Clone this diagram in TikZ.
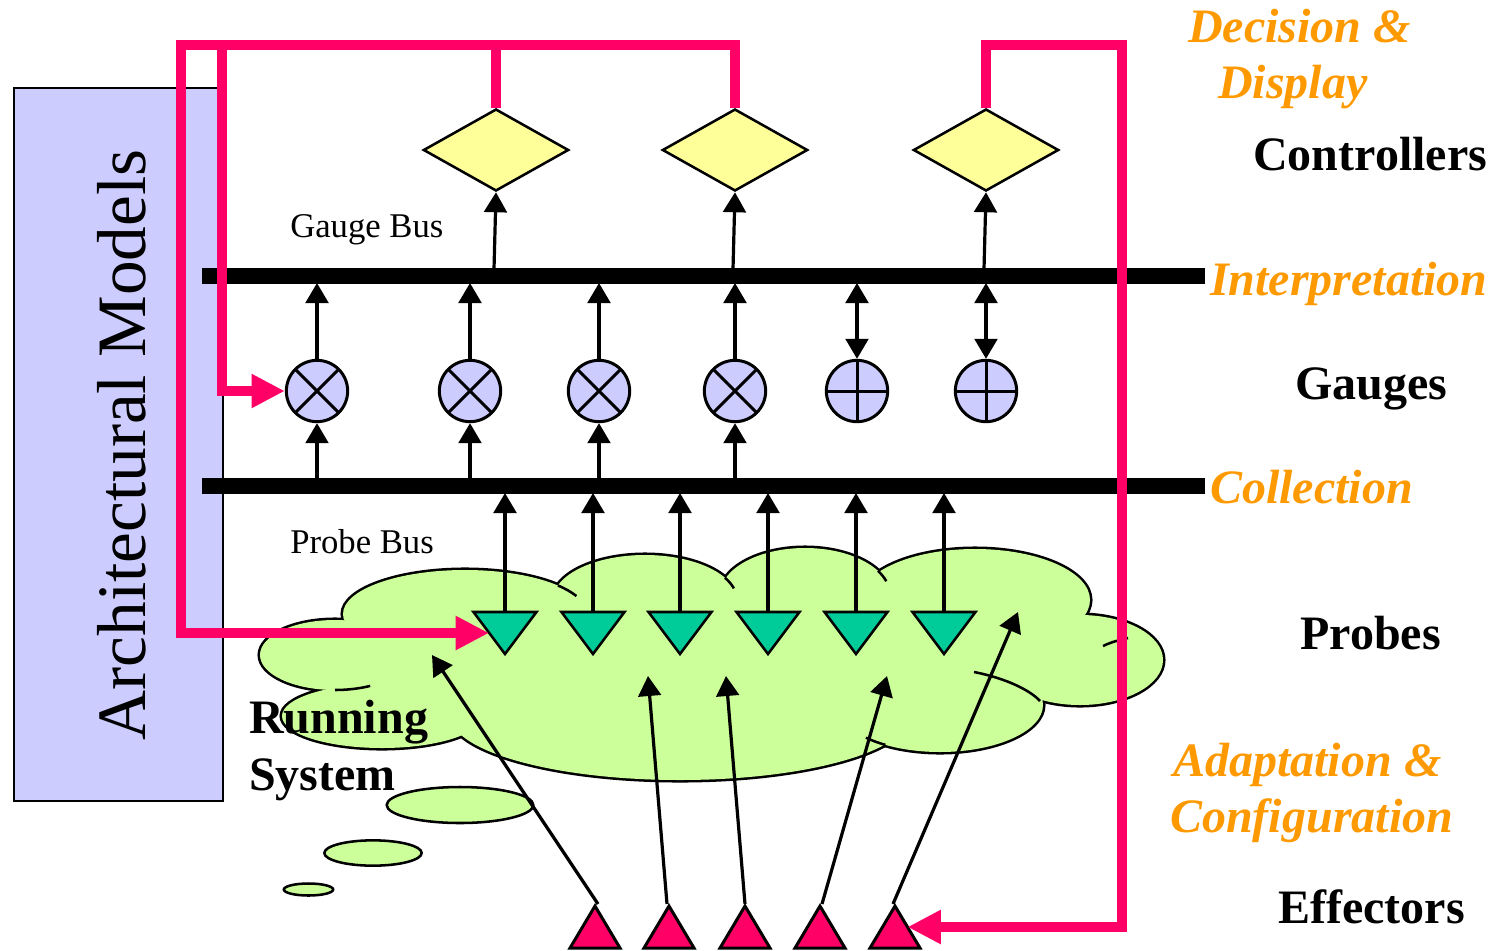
\documentclass[tikz,border=0pt]{standalone}
\usepackage{fontspec}
\setmainfont{Liberation Serif}
\usetikzlibrary{arrows.meta,shapes.geometric,calc}
\definecolor{pinkc}{HTML}{FF0066}
\definecolor{orangec}{HTML}{FF9900}
\definecolor{cloudc}{HTML}{CCFF99}
\definecolor{probec}{HTML}{00CC99}
\definecolor{ctrlc}{HTML}{FFFF99}
\definecolor{lavc}{HTML}{CCCCFF}

\begin{document}
\begin{tikzpicture}[x=0.75pt,y=-0.75pt,
  bus/.style={line width=11.5pt},
  barrow/.style={line width=2.4pt, -{Triangle[length=15pt,width=17pt]}},
  dblarrow/.style={line width=2.4pt, {Triangle[length=15pt,width=17pt]}-{Triangle[length=15pt,width=17pt]}},
  pinkarrow/.style={draw=pinkc, line width=7.5pt, -{Triangle[length=25pt,width=24pt]}},
  gauge/.style={circle, draw, line width=2.25pt, fill=lavc, minimum size=46pt, inner sep=0pt},
  xgauge/.style={gauge, path picture={\draw[line width=2.25pt]
      (path picture bounding box.north west) -- (path picture bounding box.south east)
      (path picture bounding box.north east) -- (path picture bounding box.south west);}},
  pgauge/.style={gauge, path picture={\draw[line width=2.25pt]
      (path picture bounding box.north) -- (path picture bounding box.south)
      (path picture bounding box.west) -- (path picture bounding box.east);}},
  ctrl/.style={diamond, draw, line width=1.9pt, fill=ctrlc, minimum width=109pt, minimum height=61.5pt, inner sep=0pt},
  probeshape/.style={draw, line width=1.9pt, fill=probec, line join=miter},
  effshape/.style={draw, line width=2.25pt, fill=pinkc, line join=miter},
  cloudtail/.style={line width=1.9pt},
  bubble/.style={draw, line width=1.9pt, fill=cloudc},
  lbl/.style={anchor=base west, inner sep=0pt, font=\fontsize{36pt}{40pt}\selectfont\bfseries},
  olbl/.style={anchor=base west, inner sep=0pt, text=orangec, font=\fontsize{36pt}{40pt}\selectfont\bfseries\itshape},
  buslbl/.style={anchor=base west, inner sep=0pt, font=\fontsize{26pt}{29pt}\selectfont}
]
\useasboundingbox (0,0) rectangle (1499,950);

% architectural model store
\node[draw, line width=1.5pt, fill=lavc, minimum width=156.75pt, minimum height=534.75pt,
      inner sep=0pt, anchor=north west] (archbox) at (13,87) {};
\node[rotate=90, anchor=base, inner sep=0pt, font=\fontsize{52pt}{56pt}\selectfont] (archtxt) at (145,445) {Architectural Models};

% buses
\coordinate (gbL) at (202,276);
\coordinate (gbR) at (1205,276);
\coordinate (pbL) at (202,486);
\coordinate (pbR) at (1205,486);
\coordinate (gbtop) at (0,269);
\coordinate (gbbot) at (0,283);
\coordinate (pbtop) at (0,479);
\coordinate (pbbot) at (0,493);
\draw[bus] (gbL) -- (gbR);
\draw[bus] (pbL) -- (pbR);

% running system cloud
\def\lobes{465/614/122/44, 335/655/75/35, 382/716/100/32, 680/715/230/65, 645/600/92/45, 805/595/85/47, 975/600/115/51, 1080/660/83/45, 940/705/103/47}
\foreach \cx/\cy/\rx/\ry in \lobes {\draw[line width=3.8pt] (\cx,\cy) ellipse [x radius=\rx, y radius=\ry];}
\foreach \cx/\cy/\rx/\ry in \lobes {\fill[cloudc] (\cx,\cy) ellipse [x radius=\rx, y radius=\ry];}
\fill[cloudc] (720,660) ellipse [x radius=330, y radius=60];
\fill[cloudc] (420,660) ellipse [x radius=80, y radius=35];
\draw[cloudtail] (335,690) arc[start angle=90, end angle=62, x radius=75, y radius=35];
\draw[cloudtail] (558,585.5) arc[start angle=-40.3, end angle=-24, x radius=122, y radius=44];
\draw[cloudtail] (725,577.8) arc[start angle=-29.6, end angle=-15, x radius=92, y radius=45];
\draw[cloudtail] (878,570.9) arc[start angle=-30.8, end angle=-17, x radius=85, y radius=47];
\draw[cloudtail] (885.4,744.9) arc[start angle=122, end angle=136, x radius=103, y radius=47];
\draw[cloudtail] (974,672) .. controls (1005,678) and (1030,690) .. (1040,701);
\draw[cloudtail] (1103,646) .. controls (1112,642) .. (1128,638);

% thought bubbles
\node[bubble, ellipse, minimum width=110pt, minimum height=27pt, inner sep=0pt] (b1) at (460,805) {};
\node[bubble, ellipse, minimum width=73pt, minimum height=19pt, inner sep=0pt] (b2) at (373,853) {};
\node[bubble, ellipse, minimum width=37pt, minimum height=9pt, inner sep=0pt] (b3) at (308.5,889.5) {};

% probes
\foreach \i/\x in {1/505, 2/593, 3/680, 4/768, 5/856, 6/944} {
  \coordinate (p\i) at (\x,612);
  \draw[probeshape] ($(p\i)+(-31.5,0)$) -- ($(p\i)+(31.5,0)$) -- ($(p\i)+(0,42)$) -- cycle;
  \draw[barrow] (p\i) -- (p\i |- pbbot);
}

% gauges
\node[xgauge] (g1) at (317,391) {};
\node[xgauge] (g2) at (470,391) {};
\node[xgauge] (g3) at (599,391) {};
\node[xgauge] (g4) at (735,391) {};
\node[pgauge] (g5) at (857,391) {};
\node[pgauge] (g6) at (986,391) {};
\foreach \g in {g1,g2,g3,g4} {
  \draw[barrow] (\g.south |- pbtop) -- (\g.south);
  \draw[barrow] (\g.north) -- (\g.north |- gbbot);
}
\foreach \g in {g5,g6} {
  \draw[dblarrow] (\g.north |- gbbot) -- (\g.north);
}

% controllers
\node[ctrl] (c1) at (496,150) {};
\node[ctrl] (c2) at (735,150) {};
\node[ctrl] (c3) at (986,150) {};
\foreach \c in {c1,c2,c3} {
  \draw[barrow] ($(\c.south |- gbtop)+(-2,0)$) -- (\c.south);
}

% effectors
\foreach \i/\x in {1/595, 2/669, 3/745, 4/820, 5/895} {
  \coordinate (e\i) at (\x,906);
  \draw[effshape] (e\i) -- ($(e\i)+(25,42)$) -- ($(e\i)+(-25,42)$) -- cycle;
}
\coordinate (t1) at (432,655);
\coordinate (t2) at (648,676);
\coordinate (t3) at (726,676);
\coordinate (t4) at (887,676);
\coordinate (t5) at (1018,612);
\draw[barrow] ($(e1)+(3,-2)$) -- (t1);
\draw[barrow] ($(e2)+(-2,-2)$) -- (t2);
\draw[barrow] ($(e3)+(0,-2)$) -- (t3);
\draw[barrow] ($(e4)+(2,-2)$) -- (t4);
\draw[barrow] ($(e5)+(-2,-2)$) -- (t5);

% model feedback loops
\coordinate (tl) at (181,45);
\coordinate (ib) at (222,45);
\coordinate (tr) at (1122,45);
\coordinate (p1in) at ($(p1)+(-16,21)$);
\coordinate (e5in) at ($(e5)+(12.5,21)$);
\draw[pinkarrow] (c2.north) |- (tl) |- (p1in);
\draw[pinkarrow] (c1.north) |- (ib) |- (g1.west);
\draw[pinkarrow] (c3.north) |- (tr) |- (e5in);

% labels
\node[buslbl] (gblbl) at (290,237) {Gauge Bus};
\node[buslbl] (pblbl) at (290,553) {Probe Bus};
\node[lbl] (runlbl) at (249,733) {Running};
\node[lbl] (syslbl) at (249,790) {System};

\node[olbl] (l1) at (1188,42) {Decision \&};
\node[olbl] (l2) at (1218,98) {Display};
\node[lbl]  (l3) at (1253,170) {Controllers};
\node[olbl] (l4) at (1210,295) {Interpretation};
\node[lbl]  (l5) at (1295,399) {Gauges};
\node[olbl] (l6) at (1210,503) {Collection};
\node[lbl]  (l7) at (1300,649) {Probes};
\node[olbl] (l8) at (1173,776) {Adaptation \&};
\node[olbl] (l9) at (1170,832) {Configuration};
\node[lbl]  (l10) at (1278,923) {Effectors};
\end{tikzpicture}
\end{document}
